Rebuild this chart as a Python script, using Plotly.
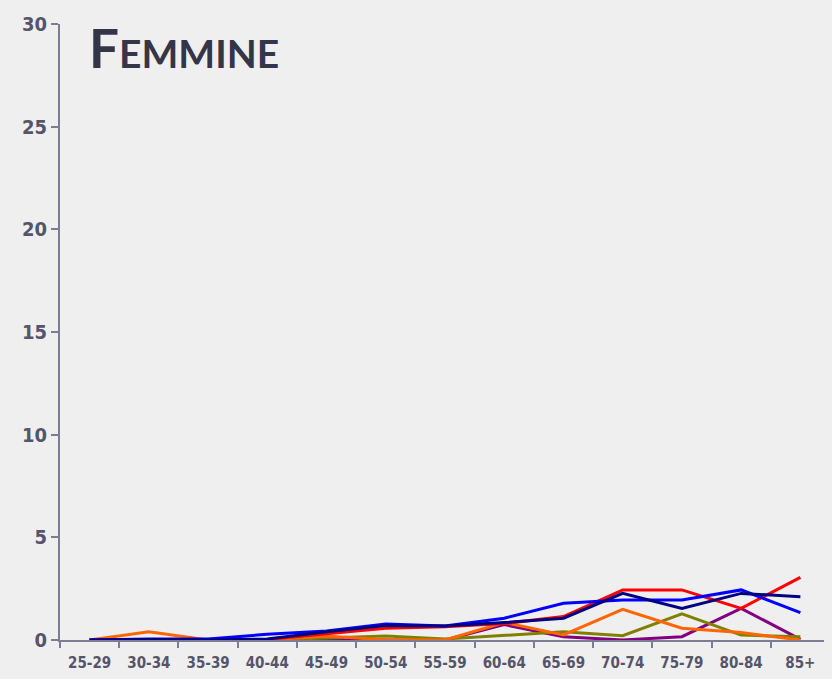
import plotly.graph_objects as go

categories = ["25-29", "30-34", "35-39", "40-44", "45-49", "50-54", "55-59",
              "60-64", "65-69", "70-74", "75-79", "80-84", "85+"]

purple = [0, 0, 0, 0, 0.05, 0, 0, 0.75, 0.16, 0, 0.16, 1.54, 0.03]
olive = [0, 0, 0, 0, 0.1, 0.2, 0.05, 0.24, 0.4, 0.21, 1.27, 0.24, 0.16]
orange = [0, 0.4, 0, 0, 0.2, 0, 0, 0.85, 0.25, 1.49, 0.57, 0.36, 0]
red = [0, 0, 0, 0.03, 0.3, 0.57, 0.65, 0.8, 1.14, 2.44, 2.44, 1.54, 3.05]
blue = [0, 0.05, 0.05, 0.28, 0.44, 0.78, 0.68, 1.06, 1.79, 1.95, 1.95, 2.44, 1.33]
navy = [0, 0.03, 0, 0.05, 0.4, 0.7, 0.68, 0.85, 1.06, 2.27, 1.54, 2.27, 2.11]

series = [
    ("purple", purple, "#800080"),
    ("olive", olive, "#808000"),
    ("orange", orange, "#ff6600"),
    ("red", red, "#ff0000"),
    ("blue", blue, "#0000ff"),
    ("navy", navy, "#000080"),
]

fig = go.Figure()
for name, vals, col in series:
    fig.add_trace(go.Scatter(x=categories, y=vals, mode="lines", name=name,
                             line=dict(color=col, width=3)))

label_font = dict(family="DejaVu Sans Condensed, Liberation Sans Narrow, sans-serif",
                  color="#55556a", weight="bold")

fig.update_layout(
    width=832, height=679,
    margin=dict(l=52, r=10, t=16, b=47),
    paper_bgcolor="#efefef", plot_bgcolor="#efefef",
    showlegend=False,
    xaxis=dict(type="category", range=[-0.5, 12.5], tickson="boundaries",
               automargin=False,
               showgrid=False, zeroline=False, showline=True,
               linecolor="#7c7c94", linewidth=2, ticks="outside",
               ticklen=6, tickcolor="#7c7c94", tickwidth=1.5,
               ticklabelstandoff=8,
               tickfont=dict(size=15, **label_font)),
    yaxis=dict(range=[0, 30], tickvals=[0, 5, 10, 15, 20, 25, 30],
               automargin=False,
               showgrid=False, zeroline=False, showline=True,
               linecolor="#7c7c94", linewidth=2, ticks="outside",
               ticklen=7, tickcolor="#7c7c94", tickwidth=1.5,
               tickfont=dict(size=20, **label_font)),
    annotations=[dict(
        x=0, y=1, xref="paper", yref="paper", xanchor="left", yanchor="top",
        xshift=27, yshift=10, showarrow=False,
        text="<b><span style='font-size:53px'>F</span>EMMINE</b>",
        font=dict(family="Lato, Open Sans, sans-serif", size=39, color="#353548"),
    )],
)

fig.write_html("out.html",
               post_script="document.body.style.background='#efefef';")
